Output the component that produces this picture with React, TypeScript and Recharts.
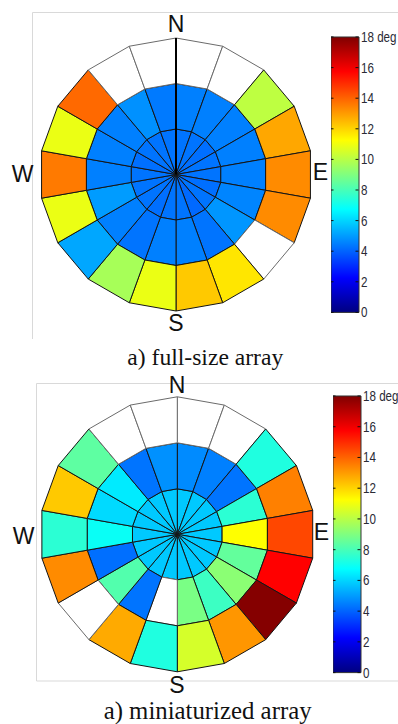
import React from 'react';
import { PieChart, Pie, Cell, BarChart, Bar, XAxis, YAxis, PolarRadiusAxis } from 'recharts';

// 18 azimuth sectors of 20°, clockwise from north
const sectors = [
  '0°', '20°', '40°', '60°', '80°', '100°', '120°', '140°', '160°',
  '180°', '200°', '220°', '240°', '260°', '280°', '300°', '320°', '340°',
];

// Full-size array: error in degrees per cell (null = no estimate)
const fullInner = [4.3, 4.3, 4.2, 4.3, 4.3, 4.2, 4.3, 4.1, 4.3, 4.3, 4.2, 4.3, 4.3, 4.3, 4.2, 4.3, 4.3, 4.3];
const fullMiddle = [4.5, 4.5, 4.5, 4.5, 4.5, 4.6, 4.9, 4.3, 4.5, 4.5, 4.3, 4.5, 5.0, 4.5, 4.5, 4.5, 4.8, 4.4];
const fullOuter = [null, null, 10.1, 12.8, 13.3, 13.3, null, 11.7, 12.2, 10.9, 9.7, 5.2, 10.9, 13.6, 10.9, 13.9, null, null];

// Miniaturized array
const miniInner = [5.8, 5.8, 5.8, 5.8, 5.8, 5.8, 5.8, 5.8, 5.8, 5.8, 5.8, 5.8, 5.8, 5.8, 5.8, 5.8, 5.8, 5.8];
const miniMiddle = [4.7, 4.5, 4.3, 7.5, 11.25, 8.5, 9.2, 7.8, 8.9, null, 4.3, 8.2, 4.2, 6.9, 6.1, 6.4, 4.3, 4.8];
const miniOuter = [null, null, 7.3, 13.5, 14.5, 15.75, 17.9, 13.1, 10.5, 7.3, 12.75, null, 13.3, 7.5, 12.2, 8.4, null, null];

// Colour scale
const colorMax = 18;
const colorTicks = [0, 2, 4, 6, 8, 10, 12, 14, 16, 18];
const colorUnit = 'deg';

const RAD = Math.PI / 180;

function jet(v: number | null): string {
  if (v == null) return '#ffffff';
  const t = Math.min(1, Math.max(0, v / colorMax));
  const c = (x: number) => Math.round(255 * Math.min(1, Math.max(0, x)));
  const r = c(Math.min(4 * t - 1.5, -4 * t + 4.5));
  const g = c(Math.min(4 * t - 0.5, -4 * t + 3.5));
  const b = c(Math.min(4 * t + 0.5, -4 * t + 2.5));
  return `rgb(${r},${g},${b})`;
}

// Sector drawn with straight edges (polygonal rose)
function PolyCell(props: any) {
  const { cx, cy, innerRadius, outerRadius, startAngle, endAngle, fill, stroke, strokeWidth } = props;
  const pt = (r: number, a: number) => `${cx + r * Math.cos(-a * RAD)},${cy + r * Math.sin(-a * RAD)}`;
  const pts =
    innerRadius > 0
      ? [pt(outerRadius, startAngle), pt(outerRadius, endAngle), pt(innerRadius, endAngle), pt(innerRadius, startAngle)]
      : [pt(0, 0), pt(outerRadius, startAngle), pt(outerRadius, endAngle)];
  return <polygon points={pts.join(' ')} fill={fill} stroke={stroke} strokeWidth={strokeWidth} strokeLinejoin="round" />;
}

function ringPie(values: (number | null)[], inner: number, outer: number, cx: number, cy: number, key: string) {
  const data = values.map((v, i) => ({ sector: sectors[i], span: 1, error: v }));
  return (
    <Pie
      key={key}
      data={data}
      dataKey="span"
      nameKey="sector"
      cx={cx}
      cy={cy}
      innerRadius={inner}
      outerRadius={outer}
      startAngle={90}
      endAngle={-270}
      stroke="#111"
      strokeWidth={1}
      isAnimationActive={false}
      shape={PolyCell}
      label={false}
      labelLine={false}
    >
      {data.map((d, i) => (
        <Cell key={i} fill={jet(d.error)} stroke={d.error == null ? '#6b6b6b' : '#151515'} />
      ))}
    </Pie>
  );
}

function Rose({ inner, middle, outer, top, cx, cy, radii, northAxis }: any) {
  return (
    <div style={{ position: 'absolute', left: 0, top }}>
      <PieChart
        width={356}
        height={350}
        margin={{ top: 0, right: 0, bottom: 0, left: 0 }}
        cx={cx}
        cy={cy}
        innerRadius={0}
        outerRadius={radii[3]}
      >
        {ringPie(inner, radii[0], radii[1], cx, cy, 'r1')}
        {ringPie(middle, radii[1], radii[2], cx, cy, 'r2')}
        {ringPie(outer, radii[2], radii[3], cx, cy, 'r3')}
        {northAxis && (
          <PolarRadiusAxis
            angle={90}
            axisLine={{ stroke: '#000', strokeWidth: 2 }}
            tick={false}
            tickLine={false}
          />
        )}
      </PieChart>
    </div>
  );
}

function ColorTick(props: any) {
  const { x, y, payload } = props;
  const axisX = x - 2.5;
  const barW = 27.5;
  const text = payload.value === colorMax ? `${payload.value} ${colorUnit}` : `${payload.value}`;
  return (
    <g>
      <line x1={axisX - barW} y1={y} x2={axisX - barW + 2.5} y2={y} stroke="#111" strokeWidth={1} />
      <line x1={axisX - 3} y1={y} x2={axisX} y2={y} stroke="#111" strokeWidth={1} />
      <g transform={`translate(${x},${y}) scale(0.83,1)`}>
        <text x={0} y={5} fontSize={14} fontFamily="'Liberation Sans', Arial, sans-serif" fill="#2a2a35">
          {text}
        </text>
      </g>
    </g>
  );
}

function ColorBar({ left, top, height }: any) {
  const data = [{ name: colorUnit, value: colorMax }];
  return (
    <div style={{ position: 'absolute', left, top: top - 10 }}>
      <BarChart
        width={398 - left}
        height={height + 30}
        data={data}
        margin={{ top: 10, right: 0, bottom: 20, left: 0 }}
        barCategoryGap={0}
        style={{ overflow: 'visible' }}
      >
        <defs>
          <linearGradient id={`jet${top}`} x1="0" y1="1" x2="0" y2="0">
            <stop offset="0" stopColor="rgb(0,0,128)" />
            <stop offset="0.125" stopColor="rgb(0,0,255)" />
            <stop offset="0.375" stopColor="rgb(0,255,255)" />
            <stop offset="0.625" stopColor="rgb(255,255,0)" />
            <stop offset="0.875" stopColor="rgb(255,0,0)" />
            <stop offset="1" stopColor="rgb(128,0,0)" />
          </linearGradient>
        </defs>
        <XAxis dataKey="name" hide />
        <YAxis
          orientation="right"
          type="number"
          domain={[0, colorMax]}
          ticks={colorTicks}
          interval={0}
          width={398 - left - 27.5}
          axisLine={false}
          tickLine={false}
          tickSize={0}
          tickMargin={2.5}
          tick={<ColorTick />}
        />
        <Bar dataKey="value" fill={`url(#jet${top})`} stroke="#333" strokeWidth={1} isAnimationActive={false} />
      </BarChart>
    </div>
  );
}

const dirFont = "'Liberation Sans', Arial, sans-serif";
const capFont = "'Liberation Serif', 'Times New Roman', serif";

function Letter({ x, y, t }: any) {
  return (
    <text x={x} y={y + 8.2} textAnchor="middle" fontSize={23} fontFamily={dirFont} fill="#111">
      {t}
    </text>
  );
}

export default function App() {
  return (
    <div style={{ position: 'absolute', left: 0, top: 0, width: 398, height: 724, background: '#fff', overflow: 'hidden' }}>
      <svg width={398} height={724} style={{ position: 'absolute', left: 0, top: 0 }}>
        <g stroke="#d9d9d9" strokeWidth={1} fill="none">
          <path d="M32.5 339 V12.5 H398" />
          <path d="M398 383.5 H36.5 V681 H398" />
        </g>
        <Letter x={176} y={23.5} t="N" />
        <Letter x={176} y={322.5} t="S" />
        <Letter x={22.5} y={174} t="W" />
        <Letter x={320.5} y={172} t="E" />
        <Letter x={177} y={384.7} t="N" />
        <Letter x={177} y={684.5} t="S" />
        <Letter x={23.7} y={536} t="W" />
        <Letter x={321.5} y={532} t="E" />
        <text x={205.3} y={365} textAnchor="middle" fontSize={23.6} fontFamily={capFont} fill="#111">
          a) full-size array
        </text>
        <text x={207.6} y={719} textAnchor="middle" fontSize={24.8} fontFamily={capFont} fill="#111">
          a) miniaturized array
        </text>
      </svg>
      <Rose inner={fullInner} middle={fullMiddle} outer={fullOuter} top={0} cx={176} cy={174.5} radii={[0, 45.5, 91, 136.5]} northAxis />
      <Rose inner={miniInner} middle={miniMiddle} outer={miniOuter} top={360} cx={177.3} cy={174.3} radii={[0, 45.5, 91.5, 137.5]} />
      <ColorBar left={330.5} top={37.3} height={275.4} />
      <ColorBar left={332.5} top={396} height={276.6} />
    </div>
  );
}
